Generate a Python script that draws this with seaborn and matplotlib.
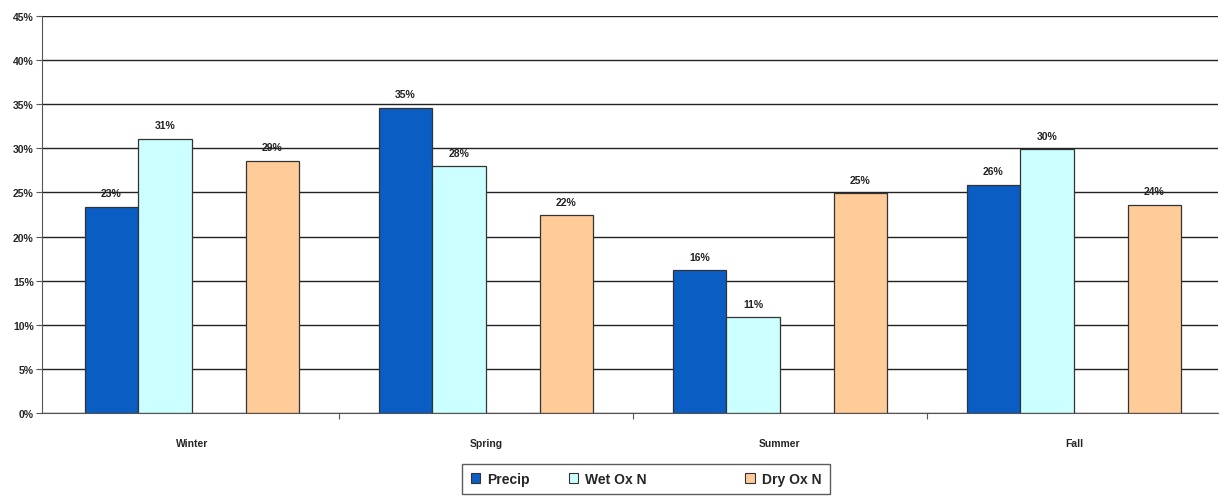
import matplotlib
matplotlib.use("Agg")
import matplotlib.pyplot as plt
from matplotlib.patches import Rectangle
from matplotlib.ticker import MultipleLocator, FuncFormatter
import seaborn as sns
import pandas as pd
import numpy as np

seasons = ["Winter", "Spring", "Summer", "Fall"]
precip = [23.4, 34.6, 16.2, 25.9]
wet_ox_n = [31.1, 28.0, 10.9, 29.9]
dry_ox_n = [28.6, 22.4, 24.9, 23.6]
# empty series kept as a spacer between wet and dry deposition
spacer = [np.nan, np.nan, np.nan, np.nan]

series_names = ["Precip", "Wet Ox N", " ", "Dry Ox N"]
series_values = [precip, wet_ox_n, spacer, dry_ox_n]
colors = {"Precip": "#0A5DC2", "Wet Ox N": "#CCFFFF", " ": "#FFFFFF", "Dry Ox N": "#FFCC99"}

rows = []
for name, vals in zip(series_names, series_values):
    for s, v in zip(seasons, vals):
        rows.append({"season": s, "series": name, "value": v})
df = pd.DataFrame(rows)

sns.set_style("white")
plt.rcParams["font.family"] = ["Liberation Sans", "DejaVu Sans"]

fig = plt.figure(figsize=(12.25, 5.02), dpi=100)
ax = fig.add_axes([42 / 1225, 88 / 502, (1218 - 42) / 1225, (414 - 17) / 502])

sns.barplot(data=df, x="season", y="value", hue="series", hue_order=series_names,
            order=seasons, palette=colors, width=0.73, dodge=True, gap=0,
            edgecolor="#333333", linewidth=0.9, saturation=1, errorbar=None,
            legend=False, ax=ax)

ax.set_ylim(0, 45)
ax.set_xlim(-0.51, 3.49)
ax.yaxis.set_major_locator(MultipleLocator(5))
ax.yaxis.set_major_formatter(FuncFormatter(lambda v, p: f"{v:.0f}%"))
ax.grid(axis="y", color="#222222", linewidth=1.0)
ax.set_axisbelow(True)
ax.set_xlabel("")
ax.set_ylabel("")

for side in ["top", "right"]:
    ax.spines[side].set_visible(False)
ax.spines["left"].set_color("#555555")
ax.spines["bottom"].set_color("#555555")

ax.tick_params(axis="y", which="major", length=4, width=0.8, color="#555555",
               labelsize=7.5, pad=2, direction="out", left=True)
ax.tick_params(axis="x", which="major", length=0, labelsize=7.5, pad=18)
ax.set_xticks(range(len(seasons)))
ax.set_xticklabels(seasons, fontweight="bold")
for lbl in ax.get_yticklabels():
    lbl.set_fontweight("bold")
ax.set_xticks([0.5, 1.5, 2.5], minor=True)
ax.tick_params(axis="x", which="minor", length=4, width=0.8, color="#555555",
               direction="out", bottom=True)

for cont in ax.containers:
    vals = cont.datavalues
    if np.all(np.isnan(vals)):
        continue
    ax.bar_label(cont, labels=[f"{v:.0f}%" for v in vals], padding=6,
                 fontsize=7.5, fontweight="bold", color="#222222")

handles = [Rectangle((0, 0), 1, 1, facecolor=colors[n],
                     edgecolor="#333333" if n.strip() else "none", linewidth=0.8)
           for n in series_names]
leg = fig.legend(handles, series_names, loc="center", bbox_to_anchor=(646 / 1225, 1 - 480 / 502),
                 ncol=4, frameon=True, fancybox=False, handlelength=0.7, handleheight=0.7,
                 handletextpad=0.5, columnspacing=2.8, borderpad=0.6,
                 prop={"weight": "bold", "size": 10})
leg.get_frame().set_edgecolor("#333333")
leg.get_frame().set_linewidth(1.0)

fig.savefig("out.png", dpi=100, facecolor="white")
